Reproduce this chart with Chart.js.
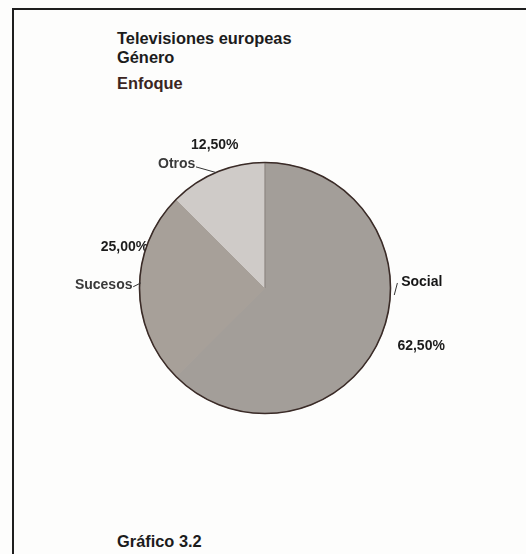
<!DOCTYPE html>
<html>
<head>
<meta charset="utf-8">
<script src="https://cdn.jsdelivr.net/npm/chart.js@4.4.1/dist/chart.umd.min.js"></script>
<style>
  html, body { margin: 0; padding: 0; background: #fdfdfc; }
  #wrap { position: relative; width: 526px; height: 554px; overflow: hidden; font-family: "Liberation Sans", Arial, sans-serif; }
  #frame { position: absolute; left: 12px; top: 8px; width: 600px; height: 600px; border-left: 2px solid #1e1e1e; border-top: 2px solid #1e1e1e; }
  .t { position: absolute; left: 117px; font-weight: bold; font-size: 16.4px; line-height: 16px; color: #1c1c1c; white-space: nowrap; }
  canvas { position: absolute; left: 0; top: 0; }
</style>
</head>
<body>
<div id="wrap">
  <div id="frame"></div>
  <div class="t" style="top:30px">Televisiones europeas</div>
  <div class="t" style="top:49px">Género</div>
  <div class="t" style="top:75px;color:#3b2522">Enfoque</div>
  <div class="t" style="top:533px">Gráfico 3.2</div>
  <canvas id="c" width="526" height="554"></canvas>
</div>
<script>
// Data
const categories = ["Social", "Sucesos", "Otros"];
const values = [62.5, 25.0, 12.5];
const valueLabels = ["62,50%", "25,00%", "12,50%"];
const sliceColors = ["#a39e99", "#a7a099", "#cfcbc8"];

// Label layout (in units of the pie radius, relative to the pie centre)
const labelLayout = [
  { name: { x: 1.085, y: -0.048, align: "left" }, pct: { x: 1.055, y: 0.46, align: "left" },
    line: [[1.055, -0.04], [1.03, 0.056]] },
  { name: { x: -1.056, y: -0.024, align: "right" }, pct: { x: -0.93, y: -0.325, align: "right", under: true },
    line: [[-1.05, -0.01], [-0.99, -0.04]] },
  { name: { x: -0.555, y: -0.99, align: "right" }, pct: { x: -0.40, y: -1.135, align: "center" },
    line: [[-0.55, -0.965], [-0.39, -0.92]] }
];

function drawText(ctx, arc, spec, text, color) {
  const r = arc.outerRadius;
  ctx.fillStyle = color;
  ctx.textAlign = spec.align;
  ctx.textBaseline = "middle";
  ctx.fillText(text, arc.x + spec.x * r, arc.y + spec.y * r);
}

const labelPlugin = {
  id: "pieLabels",
  beforeDatasetsDraw(chart) {
    const ctx = chart.ctx;
    const arcs = chart.getDatasetMeta(0).data;
    ctx.save();
    ctx.font = "bold 14px 'Liberation Sans', Arial, sans-serif";
    arcs.forEach((arc, i) => {
      const L = labelLayout[i];
      if (L.pct.under) drawText(ctx, arc, L.pct, valueLabels[i], "#1c1c1c");
    });
    ctx.restore();
  },
  afterDatasetsDraw(chart) {
    const ctx = chart.ctx;
    const arcs = chart.getDatasetMeta(0).data;
    const a0 = arcs[0];
    ctx.save();
    // outline
    ctx.beginPath();
    ctx.arc(a0.x, a0.y, a0.outerRadius, 0, Math.PI * 2);
    ctx.strokeStyle = "#3a2b27";
    ctx.lineWidth = 1.6;
    ctx.stroke();
    // radial line at start of first slice
    ctx.beginPath();
    ctx.moveTo(a0.x, a0.y);
    ctx.lineTo(a0.x + Math.cos(a0.startAngle) * a0.outerRadius, a0.y + Math.sin(a0.startAngle) * a0.outerRadius);
    ctx.strokeStyle = "rgba(70,60,55,0.6)";
    ctx.lineWidth = 1;
    ctx.stroke();
    // labels
    ctx.font = "bold 14px 'Liberation Sans', Arial, sans-serif";
    arcs.forEach((arc, i) => {
      const L = labelLayout[i];
      const r = arc.outerRadius;
      const nameColor = i === 0 ? "#151515" : "#3a3a3a";
      drawText(ctx, arc, L.name, categories[i], nameColor);
      if (!L.pct.under) drawText(ctx, arc, L.pct, valueLabels[i], "#1c1c1c");
      ctx.beginPath();
      ctx.moveTo(arc.x + L.line[0][0] * r, arc.y + L.line[0][1] * r);
      ctx.lineTo(arc.x + L.line[1][0] * r, arc.y + L.line[1][1] * r);
      ctx.strokeStyle = "#333";
      ctx.lineWidth = 1;
      ctx.stroke();
    });
    ctx.restore();
  }
};

new Chart(document.getElementById("c"), {
  type: "pie",
  data: {
    labels: categories,
    datasets: [{
      data: values,
      backgroundColor: sliceColors,
      borderColor: sliceColors,
      borderWidth: 1
    }]
  },
  options: {
    responsive: false,
    animation: false,
    layout: { padding: { left: 139, right: 135, top: 162, bottom: 140 } },
    plugins: { legend: { display: false }, tooltip: { enabled: false } }
  },
  plugins: [labelPlugin]
});
</script>
</body>
</html>
